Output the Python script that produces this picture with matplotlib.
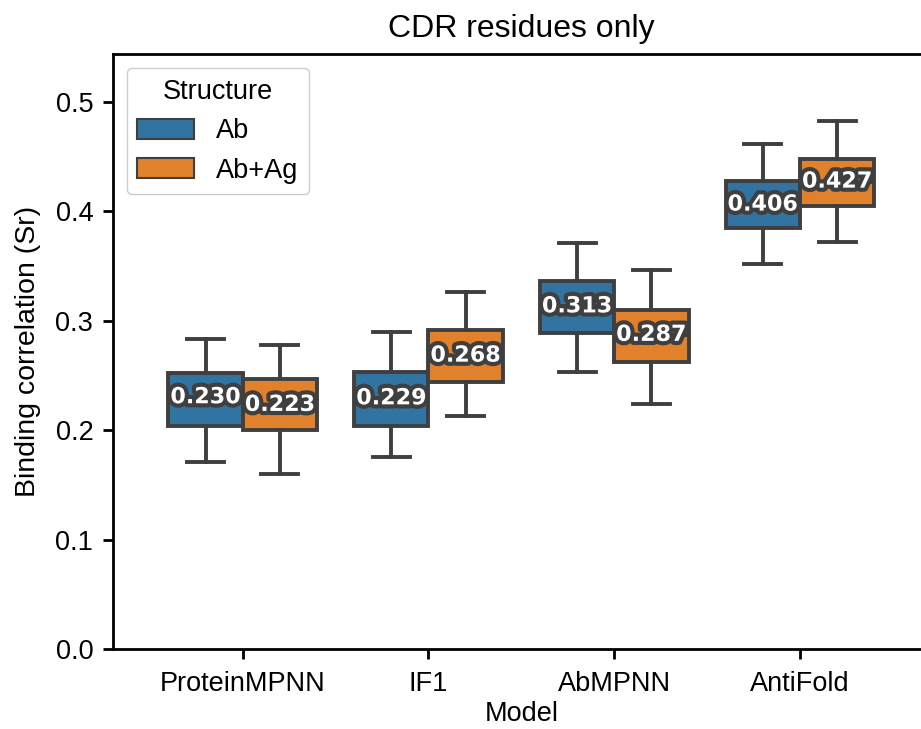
import matplotlib
matplotlib.use("Agg")
import matplotlib.pyplot as plt
import matplotlib.patheffects as pe
from matplotlib.patches import Patch

models = ["ProteinMPNN", "IF1", "AbMPNN", "AntiFold"]
structures = ["Ab", "Ab+Ag"]
colors = ["#3274a1", "#e1812c"]

# per structure: lists over models
whislo = {"Ab": [0.171, 0.175, 0.253, 0.352], "Ab+Ag": [0.160, 0.213, 0.224, 0.372]}
q1 = {"Ab": [0.204, 0.204, 0.289, 0.385], "Ab+Ag": [0.200, 0.244, 0.262, 0.405]}
med = {"Ab": [0.230, 0.229, 0.313, 0.406], "Ab+Ag": [0.223, 0.268, 0.287, 0.427]}
q3 = {"Ab": [0.252, 0.253, 0.336, 0.428], "Ab+Ag": [0.247, 0.291, 0.310, 0.448]}
whishi = {"Ab": [0.283, 0.290, 0.371, 0.461], "Ab+Ag": [0.278, 0.326, 0.346, 0.482]}

plt.rcParams['font.family'] = ['Liberation Sans', 'DejaVu Sans']
edge = "#3f3f3f"
lw = 2.8
fs = 19.5

fig = plt.figure(figsize=(9.21, 7.29), dpi=100)
ax_left = 112.7 / 921
ax_right_px = 930
ax = fig.add_axes([ax_left, 80 / 729, (ax_right_px - 112.7) / 921, 595 / 729])

offsets = [-0.2, 0.2]
for s, col, off in zip(structures, colors, offsets):
    stats = []
    for i in range(len(models)):
        stats.append(dict(med=med[s][i], q1=q1[s][i], q3=q3[s][i],
                          whislo=whislo[s][i], whishi=whishi[s][i], fliers=[]))
    pos = [i + off for i in range(len(models))]
    ax.bxp(stats, positions=pos, widths=0.4, capwidths=0.2, patch_artist=True,
           showfliers=False, manage_ticks=False,
           boxprops=dict(facecolor=col, edgecolor=edge, linewidth=lw),
           whiskerprops=dict(color=edge, linewidth=lw),
           capprops=dict(color=edge, linewidth=lw),
           medianprops=dict(color=edge, linewidth=lw))
    for p, m in zip(pos, med[s]):
        ax.text(p, m, f"{m:.3f}", ha="center", va="center", color="white",
                fontsize=16, fontweight="bold", family="DejaVu Sans", zorder=10,
                path_effects=[pe.withStroke(linewidth=6, foreground=edge)])

ax.set_xlim(-0.7, 3.7)
ax.set_ylim(0, 0.5436)
ax.set_xticks(range(len(models)))
ax.set_xticklabels(models)
ax.set_yticks([0.0, 0.1, 0.2, 0.3, 0.4, 0.5])
ax.tick_params(labelsize=fs, width=2, length=7)
ax.tick_params(axis="x", pad=9)
ax.tick_params(axis="y", pad=7)
for sp in ax.spines.values():
    sp.set_linewidth(2)
ax.set_xlabel("Model", fontsize=fs, labelpad=3)
ax.set_ylabel("Binding correlation (Sr)", fontsize=20.5, labelpad=10)
ax.set_title("CDR residues only", fontsize=23, pad=12)

handles = [Patch(facecolor=c, edgecolor=edge, linewidth=1.5) for c in colors]
leg = ax.legend(handles, structures, title="Structure", loc="upper left",
                fontsize=fs, title_fontsize=fs, bbox_to_anchor=(0.017, 0.977),
                handlelength=2.1, handleheight=0.75, framealpha=1, borderaxespad=0)
leg.get_frame().set_edgecolor("#cccccc")

fig.savefig("out.png", dpi=100)
